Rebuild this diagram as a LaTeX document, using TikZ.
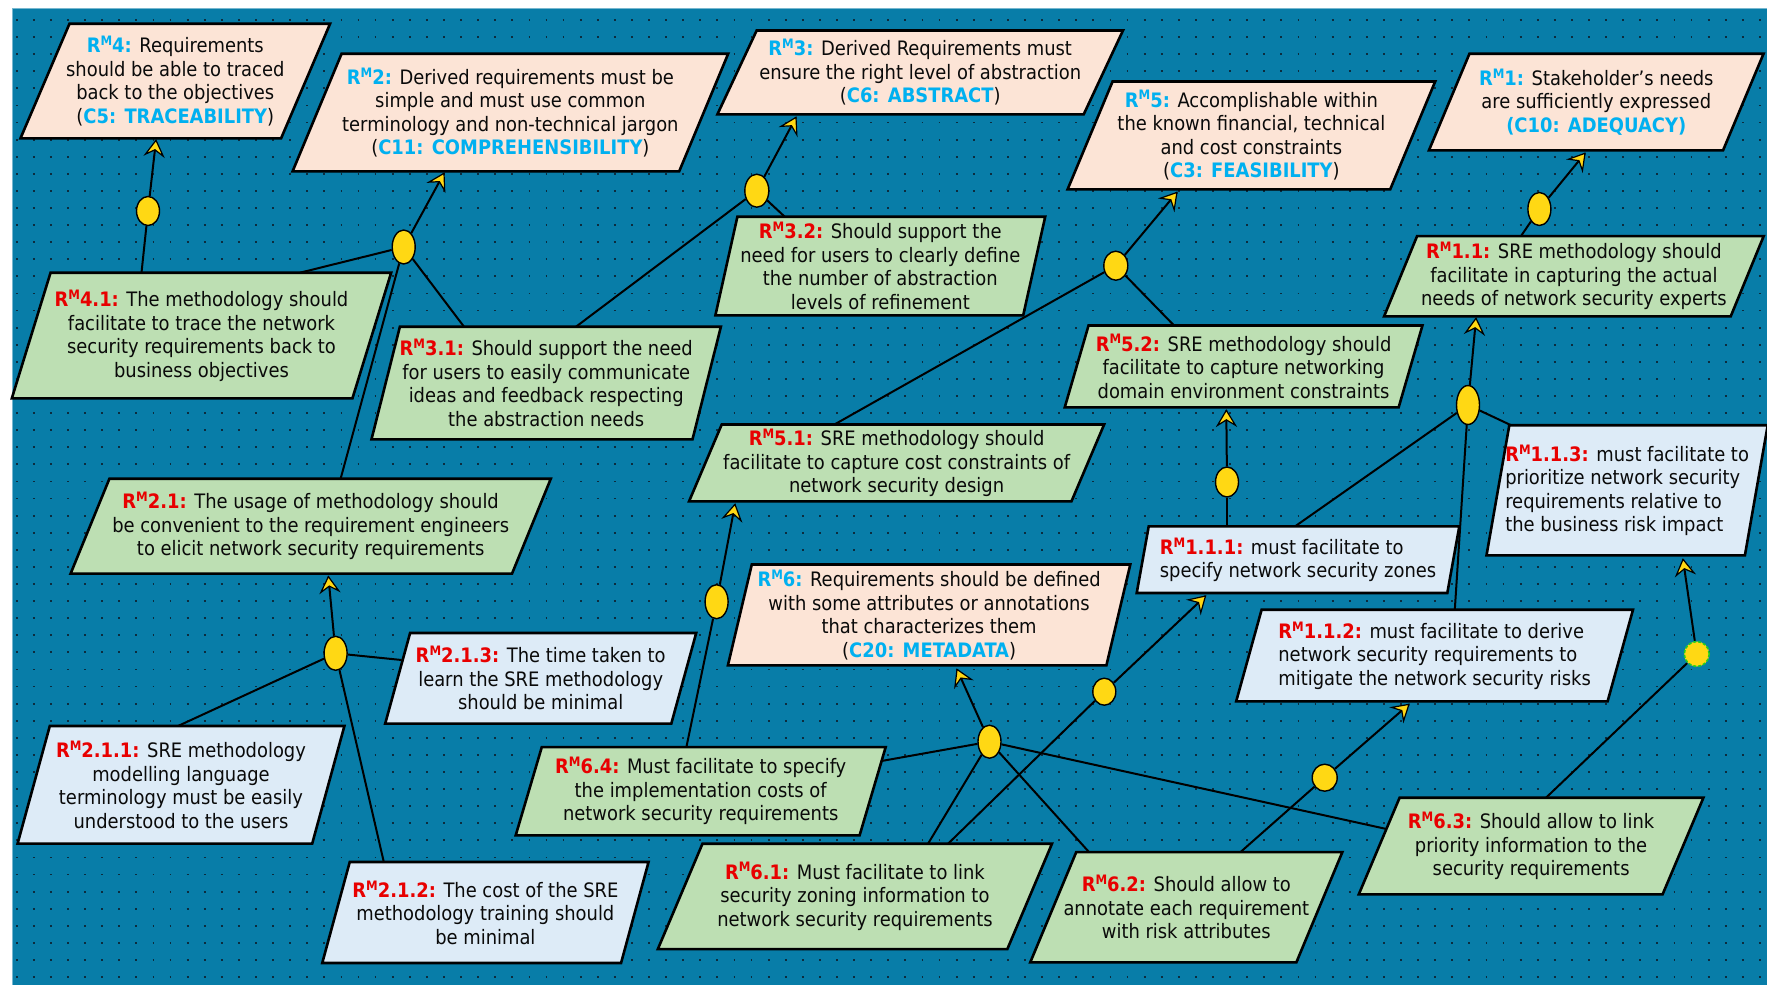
\documentclass[tikz,border=0pt]{standalone}
\usepackage{fontspec}
\setmainfont{DejaVu Sans Condensed}
\usetikzlibrary{shapes.geometric,calc,decorations.markings}
\definecolor{bgblue}{RGB}{8,125,168}
\definecolor{dotc}{RGB}{12,44,62}
\definecolor{peach}{HTML}{FCE4D6}
\definecolor{grn}{HTML}{BDDFB3}
\definecolor{lblue}{HTML}{DDEBF7}
\definecolor{ylw}{HTML}{FFD814}
\definecolor{rd}{HTML}{E80000}
\definecolor{cy}{HTML}{00B0F0}
\definecolor{txt}{HTML}{0A0A0A}
\definecolor{grring}{HTML}{22CC22}

\makeatletter
\pgfkeys{/pgf/slant offset/.initial=20pt}
\pgfdeclareshape{slantbox}{%
  \inheritsavedanchors[from=rectangle]%
  \inheritanchorborder[from=rectangle]%
  \inheritanchor[from=rectangle]{center}%
  \inheritanchor[from=rectangle]{text}%
  \inheritanchor[from=rectangle]{base}%
  \inheritanchor[from=rectangle]{mid}%
  \inheritanchor[from=rectangle]{north}%
  \inheritanchor[from=rectangle]{south}%
  \inheritanchor[from=rectangle]{east}%
  \inheritanchor[from=rectangle]{west}%
  \inheritanchor[from=rectangle]{north east}%
  \inheritanchor[from=rectangle]{north west}%
  \inheritanchor[from=rectangle]{south east}%
  \inheritanchor[from=rectangle]{south west}%
  \backgroundpath{%
    \pgfmathsetlength\pgf@xc{0.5*\pgfkeysvalueof{/pgf/slant offset}}%
    \southwest \pgf@xa=\pgf@x \pgf@ya=\pgf@y
    \northeast \pgf@xb=\pgf@x \pgf@yb=\pgf@y
    \pgfpathmoveto{\pgfqpoint{\dimexpr\pgf@xa-\pgf@xc\relax}{\pgf@ya}}%
    \pgfpathlineto{\pgfqpoint{\dimexpr\pgf@xb-\pgf@xc\relax}{\pgf@ya}}%
    \pgfpathlineto{\pgfqpoint{\dimexpr\pgf@xb+\pgf@xc\relax}{\pgf@yb}}%
    \pgfpathlineto{\pgfqpoint{\dimexpr\pgf@xa+\pgf@xc\relax}{\pgf@yb}}%
    \pgfpathclose
  }%
}
\makeatother

\newcommand\rmsup{R\raisebox{0.36em}{\fontsize{13}{13}\selectfont M}}
\newcommand\lc[1]{\textbf{\color{cy}\rmsup#1:}}
\newcommand\lr[1]{\textbf{\color{rd}\rmsup#1:}}
\newcommand\crit[1]{\textbf{\color{cy}#1}}

\pgfdeclarelayer{bg}
\pgfdeclarelayer{lines}
\pgfsetlayers{bg,lines,main}

\tikzset{
  pbox/.style={shape=slantbox, draw=black, line width=2.6pt, inner sep=0pt,
    font=\fontsize{19.9}{23.5}\selectfont, text=txt, align=center},
  dims/.style n args={3}{minimum width=#1pt, minimum height=#2pt, slant offset=#3pt},
  junc/.style={ellipse, draw=black, fill=ylw, line width=1.4pt, inner sep=0pt},
  conn/.style={draw=black, line width=2pt},
  kitehead/.style={decoration={markings, mark=at position 1 with {%
      \filldraw[fill=ylw, draw=black, line width=1.2pt, line join=miter]
        (0pt,0pt) -- (-15pt,9pt) -- (-9.5pt,0pt) -- (-15pt,-9pt) -- cycle;}}},
  arrowc/.style={conn, kitehead, postaction={decorate}},
  dotrow/.style={draw=dotc, line width=1.8pt, dash pattern=on 1.8pt off 15.29pt}
}

\begin{document}
\begin{tikzpicture}[x=1pt, y=-1pt]
\useasboundingbox (0,0) rectangle (1767,985);
\begin{pgfonlayer}{bg}
  \fill[white] (0,0) rectangle (1767,985);
  \filldraw[fill=bgblue, draw=bgblue!55!white, line width=1pt] (12.5,8) rectangle (1767,985);
  \foreach \k in {0,...,56}
    \draw[dotrow] (15.8,{20+\k*17.09}) -- (1767,{20+\k*17.09});
\end{pgfonlayer}

% ---------- boxes ----------
\node[pbox, fill=peach, dims={258}{112}{49}] (rm4) at (175.3,81)
  {\lc{4} Requirements\\should be able to traced\\back to the objectives\\(\crit{C5: TRACEABILITY})};
\node[pbox, fill=peach, dims={384}{115}{49}] (rm2) at (510.4,112.5)
  {\lc{2} Derived requirements must be\\simple and must use common\\terminology and non-technical jargon\\(\crit{C11: COMPREHENSIBILITY})};
\node[pbox, fill=peach, dims={363.7}{81.3}{39.3}] (rm3) at (920.2,72.4)
  {\lc{3} Derived Requirements must\\ensure the right level of abstraction\\(\crit{C6: ABSTRACT})};
\node[pbox, fill=peach, dims={320}{105.3}{45}] (rm5) at (1251.4,135.4)
  {\lc{5} Accomplishable within\\the known financial, technical\\and cost constraints\\(\crit{C3: FEASIBILITY})};
\node[pbox, fill=peach, dims={291.5}{94}{40.5}] (rm1) at (1596.25,102)
  {\lc{1} Stakeholder’s needs\\are sufficiently expressed\\\crit{(C10: ADEQUACY)}};
\node[pbox, fill=grn, dims={344}{77.7}{33}] (rm11) at (1573.9,276.2)
  {\lr{1.1} SRE methodology should\\facilitate in capturing the actual\\needs of network security experts};
\node[pbox, fill=grn, dims={338}{123}{38.7}] (rm41) at (201.5,335.5)
  {\lr{4.1} The methodology should\\facilitate to trace the network\\security requirements back to\\business objectives};
\node[pbox, fill=grn, dims={318.4}{110}{28.4}] (rm31) at (546.2,383)
  {\lr{3.1} Should support the need\\for users to easily communicate\\ideas and feedback respecting\\the abstraction needs};
\node[pbox, fill=grn, dims={305.2}{96}{22}] (rm32) at (880.3,266)
  {\lr{3.2} Should support the\\need for users to clearly define\\the number of abstraction\\levels of refinement};
\node[pbox, fill=grn, dims={331.3}{79.3}{23.8}] (rm52) at (1243.6,366.4)
  {\lr{5.2} SRE methodology should\\facilitate to capture networking\\domain environment constraints};
\node[pbox, fill=grn, dims={379.8}{74.3}{32.7}] (rm51) at (896.6,462.9)
  {\lr{5.1} SRE methodology should\\facilitate to capture cost constraints of\\network security design};
\node[pbox, fill=lblue, align=left, dims={255.8}{127.5}{22.8}] (rm113) at (1627.1,490.3)
  {\lr{1.1.3} must facilitate to\\prioritize network security\\requirements relative to\\the business risk impact};
\node[pbox, fill=grn, dims={438.8}{92.3}{38.8}] (rm21) at (310.7,526.2)
  {\lr{2.1} The usage of methodology should\\be convenient to the requirement engineers\\to elicit network security requirements};
\node[pbox, fill=lblue, align=left, dims={308}{64}{12}] (rm111) at (1298,559.7)
  {\lr{1.1.1} must facilitate to\\specify network security zones};
\node[pbox, fill=peach, dims={375.9}{98.3}{23.9}] (rm6) at (929.1,614.9)
  {\lc{6} Requirements should be defined\\with some attributes or annotations\\that characterizes them\\(\crit{C20: METADATA})};
\node[pbox, fill=lblue, align=left, dims={368.8}{89}{25.4}] (rm112) at (1434.6,655.5)
  {\lr{1.1.2} must facilitate to derive\\network security requirements to\\mitigate the network security risks};
\node[pbox, fill=lblue, dims={283.5}{88}{24.9}] (rm213) at (540.7,678.3)
  {\lr{2.1.3} The time taken to\\learn the SRE methodology\\should be minimal};
\node[pbox, fill=lblue, dims={292}{115}{32.2}] (rm211) at (181,784.8)
  {\lr{2.1.1} SRE methodology\\modelling language\\terminology must be easily\\understood to the users};
\node[pbox, fill=grn, dims={341.3}{85.7}{26.1}] (rm64) at (700.7,791.2)
  {\lr{6.4} Must facilitate to specify\\the implementation costs of\\network security requirements};
\node[pbox, fill=lblue, dims={296.2}{98.4}{27.5}] (rm212) at (485.4,912.5)
  {\lr{2.1.2} The cost of the SRE\\methodology training should\\be minimal};
\node[pbox, fill=grn, dims={346.9}{102.7}{44.6}] (rm61) at (854.9,896.4)
  {\lr{6.1} Must facilitate to link\\security zoning information to\\network security requirements};
\node[pbox, fill=grn, dims={263.5}{107.7}{46}] (rm62) at (1186.3,907.2)
  {\lr{6.2} Should allow to\\annotate each requirement\\with risk attributes};
\node[pbox, fill=grn, dims={301.2}{94}{40.8}] (rm63) at (1531.1,846)
  {\lr{6.3} Should allow to link\\priority information to the\\security requirements};

% ---------- junctions ----------
\node[junc, minimum width=23pt, minimum height=29pt] (e4) at (148,211) {};
\node[junc, minimum width=23pt, minimum height=34pt] (e2) at (403.7,247) {};
\node[junc, minimum width=24pt, minimum height=33pt] (e3) at (756.8,190.7) {};
\node[junc, minimum width=24pt, minimum height=29pt] (e5) at (1115.8,265.7) {};
\node[junc, minimum width=23pt, minimum height=33pt] (e1) at (1539.4,209) {};
\node[junc, minimum width=23pt, minimum height=39pt] (e11) at (1468,405) {};
\node[junc, minimum width=23pt, minimum height=30pt] (e52) at (1227,482) {};
\node[junc, draw=grring, dash pattern=on 3pt off 2pt, line width=1.6pt,
      minimum width=25pt, minimum height=25pt] (e113) at (1696.7,654) {};
\node[junc, minimum width=25pt, minimum height=27pt] (e612) at (1324.7,777.7) {};
\node[junc, minimum width=23pt, minimum height=34pt] (e64) at (716.6,601.7) {};
\node[junc, minimum width=23pt, minimum height=33pt] (e6) at (989.5,741.7) {};
\node[junc, minimum width=23pt, minimum height=27pt] (e611) at (1104.3,691.7) {};
\node[junc, minimum width=23pt, minimum height=34pt] (e21) at (335.6,653.3) {};

% ---------- connectors ----------
\begin{pgfonlayer}{lines}
\draw[conn] ($(rm41.north)+(-60,0)$) -- (e4);
\draw[arrowc] (e4) -- ($(rm4.south)+(-19.3,2)$);
\draw[conn] ($(rm41.north)+(98.5,0)$) -- (e2);
\draw[conn] ($(rm21.north)+(29.9,0)$) -- (e2);
\draw[conn] ($(rm31.north)+(-82.2,0)$) -- (e2);
\draw[arrowc] (e2) -- ($(rm2.south)+(-66.4,2)$);
\draw[conn] ($(rm31.north)+(29.8,0)$) -- (e3);
\draw[conn] ($(rm32.north)+(-95.6,0)$) -- (e3);
\draw[arrowc] (e3) -- ($(rm3.south)+(-124.2,3)$);
\draw[conn] ($(rm51.north)+(-62.1,0)$) -- (e5);
\draw[conn] ($(rm52.north)+(-69.6,0)$) -- (e5);
\draw[arrowc] (e5) -- ($(rm5.south)+(-74.4,3)$);
\draw[conn] ($(rm11.north)+(-52.9,0)$) -- (e1);
\draw[arrowc] (e1) -- ($(rm1.south)+(-11.25,3)$);
\draw[conn] ($(rm111.north)+(-3,0)$) -- (e11);
\draw[conn] ($(rm112.north)+(20.2,0)$) -- (e11);
\draw[conn] ($(rm113.north)+(-116,0)$) -- (e11);
\draw[arrowc] (e11) -- ($(rm11.south)+(-97.9,2)$);
\draw[conn] ($(rm111.north)+(-71,0)$) -- (e52);
\draw[arrowc] (e52) -- ($(rm52.south)+(-17.3,3)$);
\draw[conn] ($(rm63.north)+(14.9,0)$) -- (e113);
\draw[arrowc] (e113) -- ($(rm113.south)+(55.9,4)$);
\draw[conn] ($(rm62.north)+(54.2,0)$) -- (e612);
\draw[arrowc] (e612) -- ($(rm112.south)+(-25.6,3)$);
\draw[conn] ($(rm64.north)+(-14.3,0)$) -- (e64);
\draw[arrowc] (e64) -- ($(rm51.south)+(-161.6,3)$);
\draw[conn] ($(rm64.east)+(8.85,-30.2)$) -- (e6);
\draw[conn] ($(rm61.north)+(73.1,0)$) -- (e6);
\draw[conn] ($(rm62.north)+(-97.3,0)$) -- (e6);
\draw[conn] ($(rm63.west)+(7.3,-17)$) -- (e6);
\draw[arrowc] (e6) -- ($(rm6.south)+(27.9,4)$);
\draw[conn] ($(rm61.north)+(93.1,0)$) -- (e611);
\draw[arrowc] (e611) -- ($(rm111.south)+(-92.5,3)$);
\draw[conn] ($(rm211.north)+(-3,0)$) -- (e21);
\draw[conn] ($(rm213.west)+(4,-18.3)$) -- (e21);
\draw[conn] ($(rm212.north)+(-101.6,0)$) -- (e21);
\draw[arrowc] (e21) -- ($(rm21.south)+(17.7,3)$);
\end{pgfonlayer}
\end{tikzpicture}
\end{document}
